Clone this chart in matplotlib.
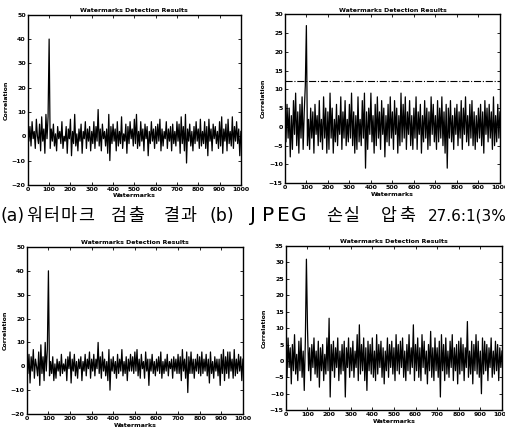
import numpy as np
import matplotlib.pyplot as plt

plt.rcParams['font.family'] = ['DejaVu Sans']

# watermark index, sampled every 5
idx = np.arange(0, 1001, 5)

corr_a = [3, -2, 4, -4, 6, -1, 2, -5, 7, 0, -3, 5, -6, 8, -2, 3, -7, 9, -1, 8,
          40, -5, 3, -2, 5, -4, 1, -6, 4, -1, 2, -3, 6, -5, 0, -2, 4, -7, 3, -1,
          7, -8, 2, -3, 9, -4, 1, -6, 3, -2, 5, -7, 2, -1, 6, -5, 3, -2, 4, -6,
          2, -3, 6, -5, 4, -2, 11, -4, 3, -6, 5, -1, 2, -4, 3, -7, 9, -10, 4, -3,
          5, -2, 3, -6, 6, -4, 2, -3, 8, -5, 1, -2, 5, -7, 4, -3, 6, -1, 3, -4,
          7, -3, 9, -5, 2, -4, 6, -2, 3, -6, 5, -1, 4, -8, 2, -3, 6, -2, 3, -5,
          4, -3, 5, -2, 7, -6, 3, -4, 2, -1, 6, -5, 3, -2, 4, -6, 5, -3, 2, -4,
          6, -2, 5, -7, 8, -3, 4, -6, 9, -11, 3, -2, 5, -4, 2, -6, 4, -3, 6, -2,
          3, -5, 7, -4, 2, -3, 6, -5, 4, -8, 7, -2, 3, -6, 5, -1, 4, -3, 2, -5,
          6, -4, 8, -7, 3, -2, 5, -6, 7, -3, 2, -4, 8, -5, 4, -2, 6, -3, 3, -8,
          2]

corr_b = [2, -4, 6, -3, 5, -8, 3, -6, 7, -2, 9, -5, 4, -7, 6, -3, 8, -6, 4, 11,
          27, -5, 2, -6, 5, -3, 4, -7, 6, -2, 3, -5, 7, -4, 2, -6, 8, -3, 5, -7,
          4, -6, 9, -3, 5, -7, 2, -4, 6, -5, 3, -2, 8, -6, 4, -3, 7, -5, 2, -4,
          6, -3, 9, -5, 4, -7, 3, -6, 8, -4, 2, -5, 7, -3, 9, -11, 4, -6, 5, -2,
          9, -4, 3, -7, 6, -5, 8, -3, 4, -6, 7, -2, 5, -8, 3, -4, 6, -5, 8, -3,
          4, -6, 7, -2, 5, -7, 3, -5, 9, -4, 6, -3, 8, -6, 4, -2, 7, -5, 3, -6,
          5, -3, 8, -6, 4, -2, 6, -7, 3, -4, 7, -3, 5, -6, 4, -5, 8, -2, 6, -4,
          3, -6, 7, -4, 5, -3, 8, -5, 4, -7, 6, -11, 5, -3, 7, -4, 3, -6, 5, -2,
          6, -5, 4, -3, 7, -6, 5, -2, 8, -4, 3, -5, 6, -3, 7, -5, 4, -6, 3, -4,
          5, -3, 6, -5, 4, -7, 7, -2, 5, -4, 6, -3, 4, -6, 8, -5, 3, -4, 6, -3,
          4]

corr_c = [2, -3, 5, -7, 4, -2, 7, -5, 3, 0, -4, 6, -8, 9, -3, 4, -6, 10, -2, 7,
          40, -4, 2, -3, 4, -6, 1, -5, 3, -2, 2, -4, 5, -3, 1, -2, 3, -6, 4, -1,
          6, -7, 3, -2, 5, -4, 2, -5, 3, -1, 4, -6, 2, -2, 5, -4, 3, -1, 6, -5,
          3, -2, 5, -4, 3, -1, 10, -3, 4, -5, 6, -2, 3, -4, 2, -6, 7, -10, 3, -2,
          4, -3, 2, -5, 5, -3, 3, -2, 7, -4, 2, -3, 4, -6, 3, -2, 5, -2, 4, -3,
          6, -2, 7, -4, 3, -5, 5, -1, 2, -5, 6, -2, 3, -8, 3, -2, 5, -3, 2, -4,
          3, -2, 4, -3, 6, -5, 2, -3, 3, -2, 5, -4, 2, -1, 3, -5, 4, -2, 3, -3,
          5, -3, 4, -6, 7, -2, 3, -5, 6, -11, 4, -3, 6, -3, 3, -5, 3, -2, 5, -3,
          4, -4, 6, -3, 3, -2, 5, -4, 3, -7, 6, -3, 2, -5, 4, -2, 3, -4, 3, -8,
          5, -3, 7, -6, 4, -3, 6, -5, 6, -2, 3, -5, 7, -4, 3, -3, 5, -2, 4, -6,
          3]

corr_d = [3, -5, 7, -2, 4, -7, 5, -3, 8, -4, 2, -6, 6, -3, 7, -5, 3, -9, 6, 31,
          10, -3, 4, -6, 5, -2, 7, -4, 3, -5, 6, -8, 4, -3, 5, -6, 2, -4, 7, -3,
          13, -11, 5, -3, 6, -5, 4, -2, 7, -6, 3, -4, 5, -3, 6, -11, 4, -2, 7, -5,
          4, -3, 6, -5, 3, -2, 8, -6, 11, -4, 5, -3, 7, -6, 4, -9, 6, -3, 5, -4,
          7, -5, 3, -6, 8, -4, 5, -2, 6, -5, 4, -7, 3, -3, 7, -5, 5, -2, 6, -4,
          4, -6, 8, -3, 5, -4, 6, -2, 7, -5, 3, -6, 5, -3, 8, -4, 4, -2, 11, -6,
          5, -3, 7, -5, 4, -6, 8, -2, 6, -4, 3, -7, 5, -3, 9, -5, 4, -6, 7, -3,
          4, -5, 6, -11, 8, -3, 5, -6, 7, -4, 3, -5, 6, -2, 8, -6, 4, -3, 5, -7,
          6, -4, 7, -3, 5, -6, 4, -2, 12, -5, 3, -4, 6, -7, 5, -3, 8, -4, 6, -5,
          3, -10, 7, -4, 6, -3, 5, -6, 4, -2, 7, -5, 3, -4, 6, -3, 5, -6, 4, -2,
          3]

thresh_b = 12.3

y_ranges = [(-20, 50, 10), (-15, 30, 5), (-20, 50, 10), (-15, 35, 5)]
panels = [corr_a, corr_b, corr_c, corr_d]
boxes = [[0.055, 0.574, 0.421, 0.392],
         [0.563, 0.578, 0.425, 0.389],
         [0.053, 0.046, 0.427, 0.385],
         [0.565, 0.055, 0.427, 0.378]]

# caption pieces, pixel span (left, right), and whether letters get spread out
cap_words = ['(a)', '워터마크', '검출', '결과', '(b)', 'JPEG', '손실', '압축', '27.6:1(3%']
cap_spans = [(0, 23), (25, 95), (110, 145), (163, 197), (210, 238), (245, 306),
             (325, 360), (380, 416), (428, 506)]
cap_spread = [False, True, True, True, False, True, True, True, False]

W, H = 506, 434
fig = plt.figure(figsize=(W / 100, H / 100), dpi=100)

for k in range(4):
    ax = fig.add_axes(boxes[k])
    ax.plot(idx, panels[k], color='black', linewidth=0.9)
    if k == 1:
        ax.plot([0, 1000], [thresh_b, thresh_b], color='black',
                linewidth=0.8, linestyle='-.')
    lo, hi, st = y_ranges[k]
    ax.set_xlim(0, 1000)
    ax.set_ylim(lo, hi)
    ax.set_xticks(np.arange(0, 1001, 100))
    ax.set_yticks(np.arange(lo, hi + 1, st))
    ax.tick_params(direction='in', length=2, width=0.6, labelsize=4.5,
                   top=True, right=True, pad=1.5)
    for lab in ax.get_xticklabels() + ax.get_yticklabels():
        lab.set_fontweight('bold')
    for sp in ax.spines.values():
        sp.set_linewidth(1.0)
    ax.set_title('Watermarks Detection Results', fontsize=4.5,
                 fontweight='bold', pad=2)
    ax.set_xlabel('Watermarks', fontsize=4.5, fontweight='bold', labelpad=1)
    ax.set_ylabel('Correlation', fontsize=4.5, fontweight='bold', labelpad=2)

# caption (the scan is stretched sideways, so some letters are spread out)
cap_font = ['DejaVu Sans', 'Noto Sans CJK KR']
for word, (x0, x1), spread in zip(cap_words, cap_spans, cap_spread):
    if spread:
        step = (x1 - x0) / len(word)
        size = 14.5 if word.isascii() else 12.5
        for i, ch in enumerate(word):
            fig.text((x0 + (i + 0.5) * step) / W, 0.503, ch, fontsize=size,
                     family=cap_font, ha='center', va='center')
    else:
        size = 11 if word[0].isdigit() else 12.5
        fig.text(x0 / W, 0.503, word, fontsize=size, family=cap_font,
                 ha='left', va='center')

fig.savefig('out.png', dpi=100)
